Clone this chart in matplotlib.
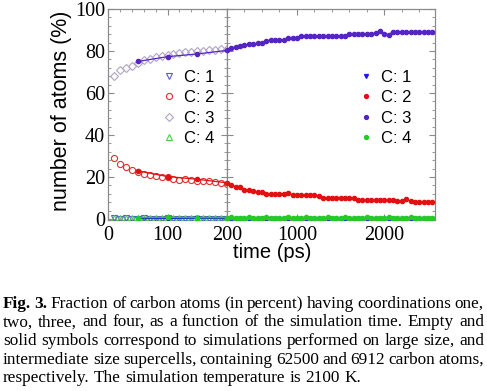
import matplotlib
matplotlib.use("Agg")
import matplotlib.pyplot as plt
from matplotlib.ticker import MultipleLocator
from matplotlib.lines import Line2D

# Large supercell (62500 atoms), empty symbols, 0-200 ps
t_large = [10, 20, 30, 40, 50, 60, 70, 80, 90, 100,
           110, 120, 130, 140, 150, 160, 170, 180, 190, 200]
c1_large = [0.3, 0.2, 0.3, 0.2, 0.2, 0.3, 0.2, 0.2, 0.2, 0.3,
            0.2, 0.2, 0.2, 0.2, 0.2, 0.2, 0.2, 0.2, 0.2, 0.2]
c2_large = [29.0, 26.3, 24.8, 23.5, 22.5, 21.6, 21.0, 20.6, 20.2, 19.8,
            19.0, 18.6, 18.8, 18.6, 18.2, 18.3, 18.0, 17.8, 17.2, 16.8]
c3_large = [68.2, 71.0, 72.0, 72.8, 74.5, 75.5, 76.3, 77.0, 77.5, 78.0,
            78.5, 79.0, 79.5, 79.5, 80.0, 80.0, 80.5, 80.5, 80.8, 81.0]
c4_large = [0.4, 0.4, 0.5, 0.4, 0.4, 0.5, 0.4, 0.4, 0.5, 0.4,
            0.4, 0.5, 0.4, 0.4, 0.4, 0.5, 0.4, 0.4, 0.4, 0.4]

# Intermediate supercell (6912 atoms), solid symbols, 50-2550 ps
t_mid = [50, 100, 150, 200, 250, 300, 350, 400, 450, 500,
         550, 600, 650, 700, 750, 800, 850, 900, 950, 1000,
         1050, 1100, 1150, 1200, 1250, 1300, 1350, 1400, 1450, 1500,
         1550, 1600, 1650, 1700, 1750, 1800, 1850, 1900, 1950, 2000,
         2050, 2100, 2150, 2200, 2250, 2300, 2350, 2400, 2450, 2500, 2550]
c1_mid = [0.2, 0.2, 0.3, 0.2, 0.2, 0.2, 0.1, 0.2, 0.2, 0.2,
          0.2, 0.1, 0.2, 0.2, 0.2, 0.2, 0.1, 0.2, 0.2, 0.2,
          0.1, 0.2, 0.2, 0.2, 0.1, 0.2, 0.2, 0.2, 0.1, 0.2,
          0.2, 0.2, 0.1, 0.2, 0.2, 0.1, 0.2, 0.2, 0.2, 0.1,
          0.2, 0.2, 0.2, 0.1, 0.2, 0.2, 0.2, 0.1, 0.2, 0.2, 0.2]
c2_mid = [22.9, 20.2, 18.9, 17.2, 16.4, 15.2, 15.0, 14.0, 13.8, 13.1,
          13.0, 13.0, 12.0, 11.9, 11.9, 11.9, 11.8, 12.3, 11.5, 11.2,
          11.2, 11.2, 11.2, 11.2, 11.0, 10.2, 10.2, 10.2, 10.2, 10.2,
          10.2, 10.2, 10.0, 9.2, 9.0, 9.0, 9.0, 9.0, 9.0, 9.0,
          9.0, 9.0, 8.4, 8.6, 9.3, 8.5, 8.3, 8.3, 8.3, 8.3, 8.3]
c3_mid = [75.0, 77.3, 78.6, 80.3, 81.3, 82.0, 82.3, 82.8, 83.2, 83.2,
          83.8, 84.0, 84.8, 85.2, 85.2, 85.2, 85.2, 86.0, 86.0, 86.2,
          87.2, 87.2, 87.2, 87.2, 87.2, 87.2, 87.2, 87.2, 87.2, 87.2,
          87.0, 88.3, 88.3, 88.3, 88.3, 88.3, 88.3, 88.6, 89.3, 88.3,
          87.8, 89.2, 89.2, 89.2, 89.2, 89.2, 89.2, 89.2, 89.2, 89.2, 89.2]
c4_mid = [0.6, 0.7, 0.6, 0.6, 0.7, 0.6, 0.6, 0.6, 0.7, 0.6,
          0.6, 0.6, 0.7, 0.6, 0.6, 0.6, 0.6, 0.7, 0.6, 0.6,
          0.6, 0.7, 0.6, 0.6, 0.6, 0.6, 0.7, 0.6, 0.6, 0.6,
          0.7, 0.6, 0.6, 0.6, 0.6, 0.7, 0.6, 0.6, 0.6, 0.6,
          0.7, 0.6, 0.6, 0.6, 0.6, 0.7, 0.6, 0.6, 0.6, 0.6, 0.6]

labels = ["C: 1", "C: 2", "C: 3", "C: 4"]
open_colors = ["#5a5ac8", "#e03030", "#b0a4c8", "#50cc50"]
open_markers = ["v", "o", "D", "^"]
open_sizes = [4.2, 4.4, 3.6, 4.2]
solid_colors = ["#1a1aee", "#e21010", "#5424c4", "#22cc22"]
solid_markers = ["v", "o", "o", "o"]

serif = "Liberation Serif"
sans = "Liberation Sans"
frame = "#8a8a8a"

fig = plt.figure(figsize=(4.87, 3.91), dpi=100)
W, H = 487, 391
bottom = 1 - 220 / H
height = (220 - 9) / H
ax1 = fig.add_axes([108 / W, bottom, 119 / W, height])
ax2 = fig.add_axes([227 / W, bottom, 208 / W, height])

large = [c1_large, c2_large, c3_large, c4_large]
mid = [c1_mid, c2_mid, c3_mid, c4_mid]

for i in range(4):
    ax1.plot(t_large, large[i], linestyle="none", marker=open_markers[i],
             ms=open_sizes[i], mfc="none", mec=open_colors[i], mew=0.8, zorder=3)
for ax in (ax1, ax2):
    for i in range(4):
        ax.plot(t_mid, mid[i], color=solid_colors[i], lw=0.9,
                marker=solid_markers[i], ms=3.0, mfc=solid_colors[i],
                mec=solid_colors[i], zorder=4)

ax1.set_xlim(0, 200)
ax2.set_xlim(200, 2580)
for ax in (ax1, ax2):
    ax.set_ylim(-0.5, 100)
    ax.yaxis.set_major_locator(MultipleLocator(20))
    ax.yaxis.set_minor_locator(MultipleLocator(4))
    for s in ax.spines.values():
        s.set_color(frame)
        s.set_linewidth(0.9)
    ax.tick_params(which="both", direction="in", top=True, right=True,
                   left=True, bottom=True, color=frame)
    ax.tick_params(which="major", length=4, width=0.8)
    ax.tick_params(which="minor", length=2, width=0.6)

ax1.set_xticks([0, 100, 200])
ax1.xaxis.set_minor_locator(MultipleLocator(20))
ax2.set_xticks([1000, 2000])
ax2.xaxis.set_minor_locator(MultipleLocator(200))
ax2.tick_params(labelleft=False)
for ax in (ax1, ax2):
    ax.tick_params(labelsize=14.5)
    ax.tick_params(axis="y", pad=2)
    ax.tick_params(axis="x", pad=4)
    for lab in ax.get_xticklabels() + ax.get_yticklabels():
        lab.set_fontfamily(serif)

fig.text(62 / W, 1 - 111 / H, "number of atoms (%)", rotation=90,
         ha="center", va="center", fontsize=15.5, family=sans)
fig.text(272 / W, 1 - 253 / H, "time (ps)", ha="center", va="center",
         fontsize=14.5, family=sans)

open_handles = [Line2D([], [], linestyle="none", marker=open_markers[i],
                       ms=open_sizes[i], mfc="none", mec=open_colors[i], mew=0.8)
                for i in range(4)]
solid_handles = [Line2D([], [], linestyle="none", marker=solid_markers[i], ms=2.8,
                        mfc=solid_colors[i], mec=solid_colors[i]) for i in range(4)]
leg_kw = dict(frameon=False, numpoints=1, handlelength=0.6, handletextpad=0.6,
              borderpad=0, borderaxespad=0, labelspacing=0.32,
              prop={"family": sans, "size": 12}, loc="upper left")
ax1.legend(open_handles, labels, bbox_to_anchor=(164 / W, 1 - 70 / H),
           bbox_transform=fig.transFigure, **leg_kw)
ax2.legend(solid_handles, labels, bbox_to_anchor=(361 / W, 1 - 70 / H),
           bbox_transform=fig.transFigure, **leg_kw)

# caption, justified like the journal layout
caption = [
    [("Fig.", "bold"), ("3.", "bold")] + [(w, "normal") for w in
        "Fraction of carbon atoms (in percent) having coordinations one,".split()],
    [(w, "normal") for w in
        "two, three, and four, as a function of the simulation time. Empty and".split()],
    [(w, "normal") for w in
        "solid symbols correspond to simulations performed on large size, and".split()],
    [(w, "normal") for w in
        "intermediate size supercells, containing 62500 and 6912 carbon atoms,".split()],
    [(w, "normal") for w in
        "respectively. The simulation temperature is 2100 K.".split()],
]
cap_size = 12.4
x_left, x_right = 3, 484
fig.canvas.draw()
renderer = fig.canvas.get_renderer()
for n, line in enumerate(caption):
    y = 308 + n * 18.5
    texts, widths = [], []
    for word, weight in line:
        t = fig.text(0, 1 - y / H, word, fontsize=cap_size, family=serif,
                     weight=weight, va="baseline", ha="left")
        texts.append(t)
        widths.append(t.get_window_extent(renderer).width)
    if n < len(caption) - 1:
        gap = (x_right - x_left - sum(widths)) / (len(texts) - 1)
    else:
        gap = cap_size * 100 / 72 * 0.25
    x = x_left
    for t, w in zip(texts, widths):
        t.set_x(x / W)
        x += w + gap

fig.savefig("out.png", dpi=100)
